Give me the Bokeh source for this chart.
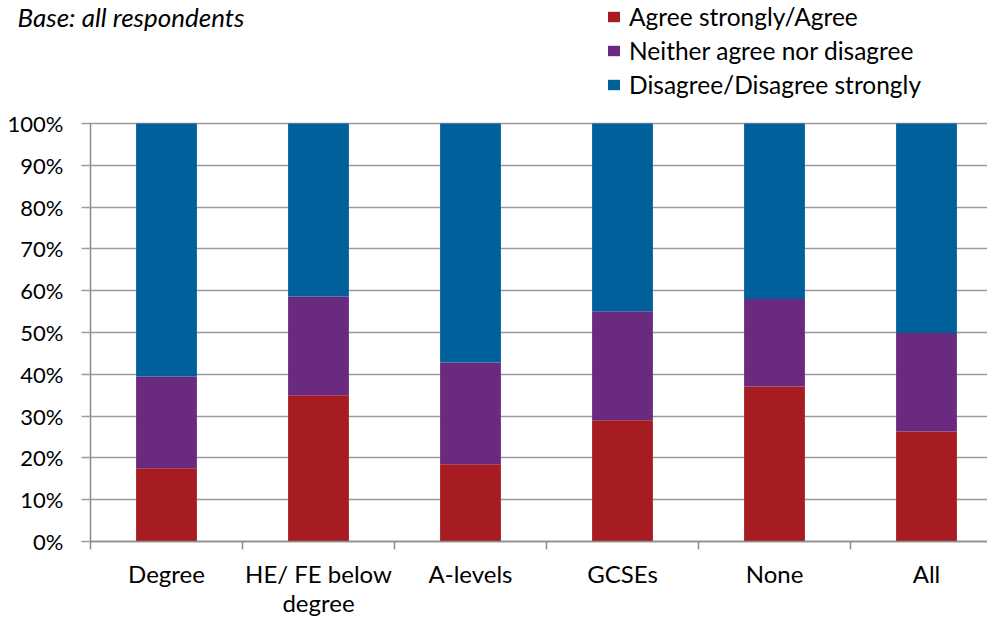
from bokeh.plotting import figure
from bokeh.models import Range1d, FixedTicker, Legend, LegendItem, Label, ColumnDataSource
from bokeh.embed import file_html
from bokeh.resources import INLINE

categories = ["Degree", "HE/ FE below\ndegree", "A-levels", "GCSEs", "None", "All"]
series = ["Agree strongly/Agree", "Neither agree nor disagree", "Disagree/Disagree strongly"]
agree = [17.5, 35.0, 18.5, 29.0, 37.1, 26.3]
neither = [22.0, 23.6, 24.3, 26.1, 20.9, 23.6]
disagree = [60.5, 41.4, 57.2, 44.9, 42.0, 50.1]
y_ticks = [0, 10, 20, 30, 40, 50, 60, 70, 80, 90, 100]
colors = ["#A61C21", "#6A2A80", "#00609C"]
note = "Base: all respondents"

FONT = "Lato"
GRAY = "#8C8C8C"
PX_PER_CAT = 152.0
PX_PER_PCT = 4.18
FRAME_W = 987
FRAME_H = 618
AXIS_X = 90   # px from frame left where the value axis sits
ZERO_Y = 541  # px from frame top where 0% sits

xs = [i + 0.5 for i in range(len(categories))]
src = ColumnDataSource(dict(x=xs, a=agree, n=neither, d=disagree))

x0 = -AXIS_X / PX_PER_CAT
x1 = (FRAME_W - AXIS_X) / PX_PER_CAT
y0 = -(FRAME_H - ZERO_Y) / PX_PER_PCT
y1 = ZERO_Y / PX_PER_PCT
p = figure(frame_width=FRAME_W, frame_height=FRAME_H,
           x_range=Range1d(x0, x1), y_range=Range1d(y0, y1),
           output_backend="svg", toolbar_location=None,
           min_border_left=0, min_border_right=0, min_border_top=0, min_border_bottom=0)
p.outline_line_color = None
p.background_fill_color = "white"
p.xgrid.visible = False
p.ygrid.visible = False

rs = p.vbar_stack(["a", "n", "d"], x="x", width=0.4, source=src, color=colors, line_color=None)

# category axis pinned at 0%: labels at centres, tick marks at boundaries
xa = p.xaxis[0]
xa.fixed_location = 0
xa.bounds = (0, x1)
xa.ticker = FixedTicker(ticks=xs, minor_ticks=list(range(len(categories) + 1)))
xa.major_label_overrides = {x: c for x, c in zip(xs, categories)}
xa.major_tick_in = 0
xa.major_tick_out = 0
xa.minor_tick_in = 0
xa.minor_tick_out = 8
xa.minor_tick_line_color = GRAY
xa.minor_tick_line_width = 1.5
xa.axis_line_color = GRAY
xa.axis_line_width = 1.5
xa.major_label_standoff = 9
xa.major_label_text_font = FONT
xa.major_label_text_font_size = "24px"
xa.major_label_text_line_height = 1.0
xa.major_label_text_color = "#000000"

# value axis pinned at x=0; its long inward ticks act as the horizontal gridlines
ya = p.yaxis[0]
ya.fixed_location = 0
ya.level = "underlay"
ya.bounds = (y_ticks[0], y_ticks[-1])
ya.ticker = FixedTicker(ticks=y_ticks, minor_ticks=[])
ya.major_label_overrides = {t: f"{t}%" for t in y_ticks}
ya.major_tick_in = FRAME_W - AXIS_X
ya.major_tick_out = 9
ya.major_tick_line_color = "#9A9A9A"
ya.major_tick_line_width = 1.5
ya.axis_line_color = GRAY
ya.axis_line_width = 1.5
ya.major_label_standoff = 18
ya.major_label_text_font = FONT
ya.major_label_text_font_size = "22px"
ya.major_label_text_color = "#000000"

note_label = Label(x=17, y=FRAME_H - 16, x_units="screen", y_units="screen", text=note,
                   text_font=FONT, text_font_style="italic", text_font_size="26px",
                   text_color="#000000", text_baseline="alphabetic", text_align="left")
p.add_layout(note_label)

legend = Legend(items=[LegendItem(label=s, renderers=[r]) for s, r in zip(series, rs)],
                location=(606, FRAME_H - 99), orientation="vertical",
                glyph_width=15, glyph_height=13, label_height=23, spacing=5,
                label_standoff=8, padding=0, margin=0,
                border_line_color=None, background_fill_alpha=0,
                label_text_font=FONT, label_text_font_size="24.5px", label_text_color="#000000")
p.add_layout(legend, "center")

open("out.html", "w").write(file_html(p, INLINE))
